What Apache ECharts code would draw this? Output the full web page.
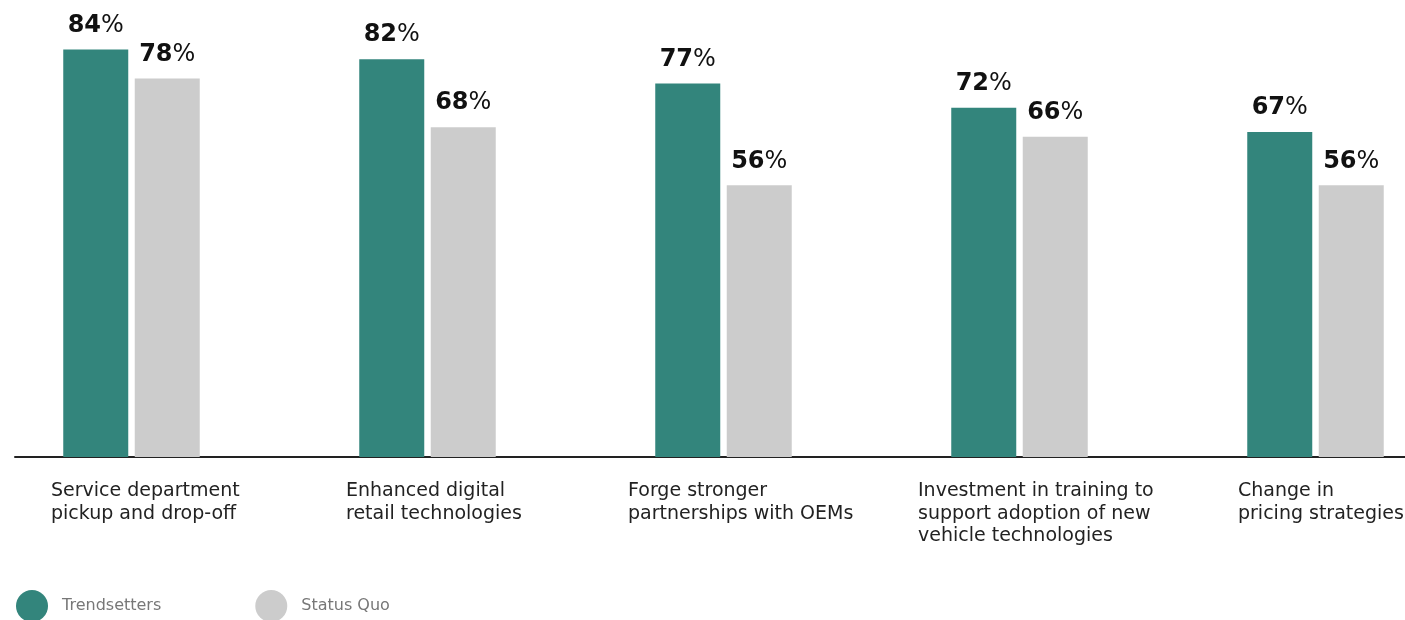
<!DOCTYPE html>
<html>
<head>
<meta charset="utf-8">
<script src="https://cdn.jsdelivr.net/npm/echarts@6/dist/echarts.min.js"></script>
<style>
  html, body { margin: 0; padding: 0; background: #fff; }
  #chart { width: 1405px; height: 620px; }
</style>
</head>
<body>
<div id="chart"></div>
<script>
// Survey priorities: share of respondents per group
const categories = [
  'Service department\npickup and drop-off',
  'Enhanced digital\nretail technologies',
  'Forge stronger\npartnerships with OEMs',
  'Investment in training to\nsupport adoption of new\nvehicle technologies',
  'Change in\npricing strategies'
];
const trendsetters = [84, 82, 77, 72, 67];
const statusQuo = [78, 68, 56, 66, 56];
const seriesNames = ['Trendsetters', 'Status Quo'];

// small per-label nudges for the left-aligned category captions
const labelNudge = [21, 20, 6, 0, 24];

const FONT = '"DejaVu Sans", sans-serif';
const GREEN = '#33857c';
const GREY = '#cccccc';

const valueLabel = {
  show: true,
  position: 'top',
  distance: 12,
  formatter: p => '{n|' + p.value + '}{p|%}',
  rich: {
    n: { fontFamily: FONT, fontSize: 24, fontWeight: 'bold', color: '#111' },
    p: { fontFamily: FONT, fontSize: 24, fontWeight: 'normal', color: '#111' }
  }
};

const captionStyle = {
  align: 'left', verticalAlign: 'top',
  fontFamily: FONT, fontSize: 19, lineHeight: 22.5, color: '#222'
};

const chart = echarts.init(document.getElementById('chart'));
chart.setOption({
  animation: false,
  grid: [
    { left: -16.5, width: 1480, top: 1, bottom: 163, outerBoundsMode: 'none' },  // bars
    { left: 15, right: 0, top: 1, bottom: 163, outerBoundsMode: 'none' },       // baseline rule
    { left: -118, width: 1480, top: 1, bottom: 163, outerBoundsMode: 'none' }    // captions
  ],
  legend: {
    left: 16,
    top: 590,
    padding: 0,
    icon: 'circle',
    itemWidth: 32,
    itemHeight: 32,
    itemGap: 94,
    data: seriesNames,
    textStyle: { fontFamily: FONT, fontSize: 16, color: '#777', padding: [0, 0, 0, 9] }
  },
  xAxis: [
    {
      gridIndex: 0, type: 'category', data: categories,
      axisLine: { show: false }, axisTick: { show: false }, axisLabel: { show: false }
    },
    {
      gridIndex: 1, type: 'value', min: 0, max: 1,
      axisLine: { show: true, lineStyle: { color: '#222', width: 2 } },
      axisTick: { show: false }, axisLabel: { show: false }, splitLine: { show: false }
    },
    {
      gridIndex: 2, type: 'category',
      data: categories.map((c, i) => ({
        value: c,
        textStyle: Object.assign({}, captionStyle, { padding: [0, 0, 0, labelNudge[i]] })
      })),
      axisLine: { show: false }, axisTick: { show: false },
      axisLabel: Object.assign({ show: true, interval: 0, margin: 23 }, captionStyle)
    }
  ],
  yAxis: [
    { gridIndex: 0, type: 'value', min: 0, max: 94, show: false, splitLine: { show: false } },
    { gridIndex: 1, type: 'value', min: 0, max: 1, show: false },
    { gridIndex: 2, type: 'value', min: 0, max: 1, show: false }
  ],
  series: [
    {
      name: seriesNames[0], type: 'bar', xAxisIndex: 0, yAxisIndex: 0,
      data: trendsetters, barWidth: 65, barGap: '10%',
      itemStyle: { color: GREEN }, label: valueLabel
    },
    {
      name: seriesNames[1], type: 'bar', xAxisIndex: 0, yAxisIndex: 0,
      data: statusQuo, barWidth: 65, barGap: '10%',
      itemStyle: { color: GREY }, label: valueLabel
    }
  ]
});
</script>
</body>
</html>
